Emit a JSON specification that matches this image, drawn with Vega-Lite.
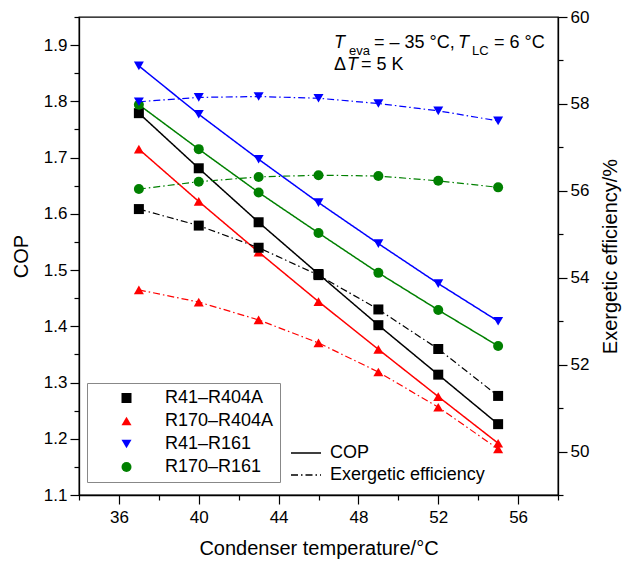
{
  "$schema": "https://vega.github.io/schema/vega-lite/v6.json",
  "width": 479,
  "height": 478,
  "autosize": "none",
  "padding": {"left": 79, "top": 17, "right": 67, "bottom": 66},
  "background": "white",
  "config": {
    "font": "Liberation Sans",
    "view": {"stroke": "black", "strokeWidth": 1.3},
    "axis": {"grid": false, "domainColor": "black", "domainWidth": 1.3, "tickColor": "black", "tickWidth": 1.2, "labelColor": "black", "titleColor": "black", "labelFontSize": 17, "titleFontSize": 20, "titleFontWeight": "normal", "labelFont": "Liberation Sans", "titleFont": "Liberation Sans"},
    "legend": {"labelFont": "Liberation Sans", "labelColor": "black"}
  },
  "datasets": {
    "cop": [
      {"T": 37, "series": "R41–R404A", "metric": "COP", "value": 1.779},
      {"T": 40, "series": "R41–R404A", "metric": "COP", "value": 1.681},
      {"T": 43, "series": "R41–R404A", "metric": "COP", "value": 1.585},
      {"T": 46, "series": "R41–R404A", "metric": "COP", "value": 1.493},
      {"T": 49, "series": "R41–R404A", "metric": "COP", "value": 1.402},
      {"T": 52, "series": "R41–R404A", "metric": "COP", "value": 1.314},
      {"T": 55, "series": "R41–R404A", "metric": "COP", "value": 1.226},
      {"T": 37, "series": "R170–R404A", "metric": "COP", "value": 1.715},
      {"T": 40, "series": "R170–R404A", "metric": "COP", "value": 1.622},
      {"T": 43, "series": "R170–R404A", "metric": "COP", "value": 1.532},
      {"T": 46, "series": "R170–R404A", "metric": "COP", "value": 1.444},
      {"T": 49, "series": "R170–R404A", "metric": "COP", "value": 1.359},
      {"T": 52, "series": "R170–R404A", "metric": "COP", "value": 1.275},
      {"T": 55, "series": "R170–R404A", "metric": "COP", "value": 1.192},
      {"T": 37, "series": "R41–R161", "metric": "COP", "value": 1.863},
      {"T": 40, "series": "R41–R161", "metric": "COP", "value": 1.777},
      {"T": 43, "series": "R41–R161", "metric": "COP", "value": 1.697},
      {"T": 46, "series": "R41–R161", "metric": "COP", "value": 1.620},
      {"T": 49, "series": "R41–R161", "metric": "COP", "value": 1.547},
      {"T": 52, "series": "R41–R161", "metric": "COP", "value": 1.476},
      {"T": 55, "series": "R41–R161", "metric": "COP", "value": 1.409},
      {"T": 37, "series": "R170–R161", "metric": "COP", "value": 1.794},
      {"T": 40, "series": "R170–R161", "metric": "COP", "value": 1.715},
      {"T": 43, "series": "R170–R161", "metric": "COP", "value": 1.638},
      {"T": 46, "series": "R170–R161", "metric": "COP", "value": 1.566},
      {"T": 49, "series": "R170–R161", "metric": "COP", "value": 1.495},
      {"T": 52, "series": "R170–R161", "metric": "COP", "value": 1.429},
      {"T": 55, "series": "R170–R161", "metric": "COP", "value": 1.365}
    ],
    "exg": [
      {"T": 37, "series": "R41–R404A", "metric": "Exergetic efficiency", "value": 55.58},
      {"T": 40, "series": "R41–R404A", "metric": "Exergetic efficiency", "value": 55.20},
      {"T": 43, "series": "R41–R404A", "metric": "Exergetic efficiency", "value": 54.69},
      {"T": 46, "series": "R41–R404A", "metric": "Exergetic efficiency", "value": 54.06},
      {"T": 49, "series": "R41–R404A", "metric": "Exergetic efficiency", "value": 53.27},
      {"T": 52, "series": "R41–R404A", "metric": "Exergetic efficiency", "value": 52.36},
      {"T": 55, "series": "R41–R404A", "metric": "Exergetic efficiency", "value": 51.28},
      {"T": 37, "series": "R170–R404A", "metric": "Exergetic efficiency", "value": 53.72},
      {"T": 40, "series": "R170–R404A", "metric": "Exergetic efficiency", "value": 53.44},
      {"T": 43, "series": "R170–R404A", "metric": "Exergetic efficiency", "value": 53.03},
      {"T": 46, "series": "R170–R404A", "metric": "Exergetic efficiency", "value": 52.50},
      {"T": 49, "series": "R170–R404A", "metric": "Exergetic efficiency", "value": 51.83},
      {"T": 52, "series": "R170–R404A", "metric": "Exergetic efficiency", "value": 51.02},
      {"T": 55, "series": "R170–R404A", "metric": "Exergetic efficiency", "value": 50.06},
      {"T": 37, "series": "R41–R161", "metric": "Exergetic efficiency", "value": 58.05},
      {"T": 40, "series": "R41–R161", "metric": "Exergetic efficiency", "value": 58.15},
      {"T": 43, "series": "R41–R161", "metric": "Exergetic efficiency", "value": 58.17},
      {"T": 46, "series": "R41–R161", "metric": "Exergetic efficiency", "value": 58.13},
      {"T": 49, "series": "R41–R161", "metric": "Exergetic efficiency", "value": 58.01},
      {"T": 52, "series": "R41–R161", "metric": "Exergetic efficiency", "value": 57.84},
      {"T": 55, "series": "R41–R161", "metric": "Exergetic efficiency", "value": 57.61},
      {"T": 37, "series": "R170–R161", "metric": "Exergetic efficiency", "value": 56.04},
      {"T": 40, "series": "R170–R161", "metric": "Exergetic efficiency", "value": 56.21},
      {"T": 43, "series": "R170–R161", "metric": "Exergetic efficiency", "value": 56.32},
      {"T": 46, "series": "R170–R161", "metric": "Exergetic efficiency", "value": 56.36},
      {"T": 49, "series": "R170–R161", "metric": "Exergetic efficiency", "value": 56.34},
      {"T": 52, "series": "R170–R161", "metric": "Exergetic efficiency", "value": 56.23},
      {"T": 55, "series": "R170–R161", "metric": "Exergetic efficiency", "value": 56.08}
    ]
  },
  "encoding": {
    "x": {
      "field": "T", "type": "quantitative",
      "scale": {"domain": [34, 58], "nice": false, "zero": false},
      "axis": {
        "title": "Condenser temperature/°C",
        "values": [34, 36, 38, 40, 42, 44, 46, 48, 50, 52, 54, 56, 58],
        "labelExpr": "datum.value % 4 == 0 ? datum.label : ''",
        "tickSize": {"condition": {"test": "datum.value % 4 == 0", "value": 9}, "value": 5},
        "labelPadding": 5, "titlePadding": 13,
        "labelOverlap": false, "labelFlush": false, "labelBound": false
      }
    }
  },
  "layer": [
    {
      "data": {"name": "cop"},
      "encoding": {
        "y": {
          "field": "value", "type": "quantitative",
          "scale": {"domain": [1.1, 1.95], "nice": false, "zero": false},
          "axis": {
            "title": "COP", "orient": "left",
            "values": [1.1, 1.15, 1.2, 1.25, 1.3, 1.35, 1.4, 1.45, 1.5, 1.55, 1.6, 1.65, 1.7, 1.75, 1.8, 1.85, 1.9, 1.95],
            "labelExpr": "abs(datum.value*10 - round(datum.value*10)) < 0.001 ? format(datum.value, '.1f') : ''",
            "tickSize": {"condition": {"test": "abs(datum.value*10 - round(datum.value*10)) < 0.001", "value": 9}, "value": 5},
            "labelPadding": 3, "titlePadding": 12,
            "labelOverlap": false, "labelFlush": false, "labelBound": false
          }
        }
      },
      "layer": [
        {"transform": [{"filter": "datum.T == 37 && datum.series == 'R41–R404A'"}], "mark": {"type": "text", "text": "T", "fontStyle": "italic", "fontSize": 18, "align": "left", "baseline": "alphabetic", "dx": 0, "color": "black"}, "encoding": {"x": {"datum": 46.78, "type": "quantitative"}, "y": {"datum": 1.8947, "type": "quantitative"}}},
        {"transform": [{"filter": "datum.T == 37 && datum.series == 'R41–R404A'"}], "mark": {"type": "text", "text": "eva", "fontSize": 13, "align": "left", "baseline": "alphabetic", "dx": 15, "dy": 7, "color": "black"}, "encoding": {"x": {"datum": 46.78, "type": "quantitative"}, "y": {"datum": 1.8947, "type": "quantitative"}}},
        {"transform": [{"filter": "datum.T == 37 && datum.series == 'R41–R404A'"}], "mark": {"type": "text", "text": "= – 35 °C,", "fontSize": 18, "align": "left", "baseline": "alphabetic", "dx": 40, "color": "black"}, "encoding": {"x": {"datum": 46.78, "type": "quantitative"}, "y": {"datum": 1.8947, "type": "quantitative"}}},
        {"transform": [{"filter": "datum.T == 37 && datum.series == 'R41–R404A'"}], "mark": {"type": "text", "text": "T", "fontStyle": "italic", "fontSize": 18, "align": "left", "baseline": "alphabetic", "dx": 124, "color": "black"}, "encoding": {"x": {"datum": 46.78, "type": "quantitative"}, "y": {"datum": 1.8947, "type": "quantitative"}}},
        {"transform": [{"filter": "datum.T == 37 && datum.series == 'R41–R404A'"}], "mark": {"type": "text", "text": "LC", "fontSize": 13, "align": "left", "baseline": "alphabetic", "dx": 138, "dy": 7, "color": "black"}, "encoding": {"x": {"datum": 46.78, "type": "quantitative"}, "y": {"datum": 1.8947, "type": "quantitative"}}},
        {"transform": [{"filter": "datum.T == 37 && datum.series == 'R41–R404A'"}], "mark": {"type": "text", "text": "= 6 °C", "fontSize": 18, "align": "left", "baseline": "alphabetic", "dx": 160, "color": "black"}, "encoding": {"x": {"datum": 46.78, "type": "quantitative"}, "y": {"datum": 1.8947, "type": "quantitative"}}},
        {"transform": [{"filter": "datum.T == 37 && datum.series == 'R41–R404A'"}], "mark": {"type": "text", "text": "Δ", "fontSize": 18, "align": "left", "baseline": "alphabetic", "dx": 0, "color": "black"}, "encoding": {"x": {"datum": 46.78, "type": "quantitative"}, "y": {"datum": 1.8556, "type": "quantitative"}}},
        {"transform": [{"filter": "datum.T == 37 && datum.series == 'R41–R404A'"}], "mark": {"type": "text", "text": "T", "fontStyle": "italic", "fontSize": 18, "align": "left", "baseline": "alphabetic", "dx": 13, "color": "black"}, "encoding": {"x": {"datum": 46.78, "type": "quantitative"}, "y": {"datum": 1.8556, "type": "quantitative"}}},
        {"transform": [{"filter": "datum.T == 37 && datum.series == 'R41–R404A'"}], "mark": {"type": "text", "text": "= 5 K", "fontSize": 18, "align": "left", "baseline": "alphabetic", "dx": 27, "color": "black"}, "encoding": {"x": {"datum": 46.78, "type": "quantitative"}, "y": {"datum": 1.8556, "type": "quantitative"}}},
        {
          "mark": {"type": "line", "strokeWidth": 1.5},
          "encoding": {
            "stroke": {"field": "series", "type": "nominal", "scale": {"domain": ["R170–R161", "R41–R161", "R170–R404A", "R41–R404A"], "range": ["#008000", "#0000ff", "#ff0000", "#000000"]}, "legend": null},
            "strokeDash": {
              "field": "metric", "type": "nominal",
              "scale": {"domain": ["COP", "Exergetic efficiency"], "range": [[1, 0], [7, 3, 1.5, 3]]},
              "legend": {"title": null, "orient": "none", "legendX": 216, "legendY": 425, "symbolType": "M-1.5,0H1.5", "symbolSize": 400, "symbolStrokeColor": "black", "symbolStrokeWidth": 1.3, "labelOffset": 13, "labelFontSize": 18, "padding": 0, "rowPadding": 2}
            }
          }
        },
        {
          "mark": {"type": "point", "filled": true, "opacity": 1, "size": 100},
          "encoding": {
            "color": {"field": "series", "type": "nominal", "scale": {"domain": ["R41–R404A", "R170–R404A", "R41–R161", "R170–R161"], "range": ["#000000", "#ff0000", "#0000ff", "#008000"]},
              "legend": {"title": null, "orient": "none", "legendX": 8, "legendY": 366, "symbolSize": 100, "symbolOffset": 24.5, "labelOffset": 29.5, "labelFontSize": 18, "padding": 6, "rowPadding": 5, "strokeColor": "#888888", "fillColor": "white", "symbolStrokeWidth": 0}},
            "shape": {"field": "series", "type": "nominal", "scale": {"domain": ["R41–R404A", "R170–R404A", "R41–R161", "R170–R161"], "range": ["square", "triangle-up", "triangle-down", "circle"]},
              "legend": {"title": null, "orient": "none", "legendX": 8, "legendY": 366, "symbolSize": 100, "symbolOffset": 24.5, "labelOffset": 29.5, "labelFontSize": 18, "padding": 6, "rowPadding": 5, "strokeColor": "#888888", "fillColor": "white", "symbolStrokeWidth": 0}}
          }
        }
      ]
    },
    {
      "data": {"name": "exg"},
      "encoding": {
        "y": {
          "field": "value", "type": "quantitative",
          "scale": {"domain": [49, 60], "nice": false, "zero": false},
          "axis": {
            "title": "Exergetic efficiency/%", "orient": "right",
            "values": [49, 50, 51, 52, 53, 54, 55, 56, 57, 58, 59, 60],
            "labelExpr": "datum.value % 2 == 0 ? datum.label : ''",
            "tickSize": {"condition": {"test": "datum.value % 2 == 0", "value": 9}, "value": 5},
            "labelPadding": 3, "titlePadding": 12, "titleAngle": 270, "titleBaseline": "top",
            "labelOverlap": false, "labelFlush": false, "labelBound": false
          }
        }
      },
      "layer": [
        {
          "mark": {"type": "line", "strokeWidth": 1.2},
          "encoding": {
            "stroke": {"field": "series", "type": "nominal", "scale": {"domain": ["R170–R161", "R41–R161", "R170–R404A", "R41–R404A"], "range": ["#008000", "#0000ff", "#ff0000", "#000000"]}, "legend": null},
            "strokeDash": {
              "field": "metric", "type": "nominal",
              "scale": {"domain": ["COP", "Exergetic efficiency"], "range": [[1, 0], [7, 3, 1.5, 3]]},
              "legend": {"title": null, "orient": "none", "legendX": 216, "legendY": 425, "symbolType": "M-1.5,0H1.5", "symbolSize": 400, "symbolStrokeColor": "black", "symbolStrokeWidth": 1.3, "labelOffset": 13, "labelFontSize": 18, "padding": 0, "rowPadding": 2}
            }
          }
        },
        {
          "mark": {"type": "point", "filled": true, "opacity": 1, "size": 100},
          "encoding": {
            "color": {"field": "series", "type": "nominal", "scale": {"domain": ["R41–R404A", "R170–R404A", "R41–R161", "R170–R161"], "range": ["#000000", "#ff0000", "#0000ff", "#008000"]},
              "legend": {"title": null, "orient": "none", "legendX": 8, "legendY": 366, "symbolSize": 100, "symbolOffset": 24.5, "labelOffset": 29.5, "labelFontSize": 18, "padding": 6, "rowPadding": 5, "strokeColor": "#888888", "fillColor": "white", "symbolStrokeWidth": 0}},
            "shape": {"field": "series", "type": "nominal", "scale": {"domain": ["R41–R404A", "R170–R404A", "R41–R161", "R170–R161"], "range": ["square", "triangle-up", "triangle-down", "circle"]},
              "legend": {"title": null, "orient": "none", "legendX": 8, "legendY": 366, "symbolSize": 100, "symbolOffset": 24.5, "labelOffset": 29.5, "labelFontSize": 18, "padding": 6, "rowPadding": 5, "strokeColor": "#888888", "fillColor": "white", "symbolStrokeWidth": 0}}
          }
        }
      ]
    }
  ],
  "resolve": {"scale": {"y": "independent"}}
}
